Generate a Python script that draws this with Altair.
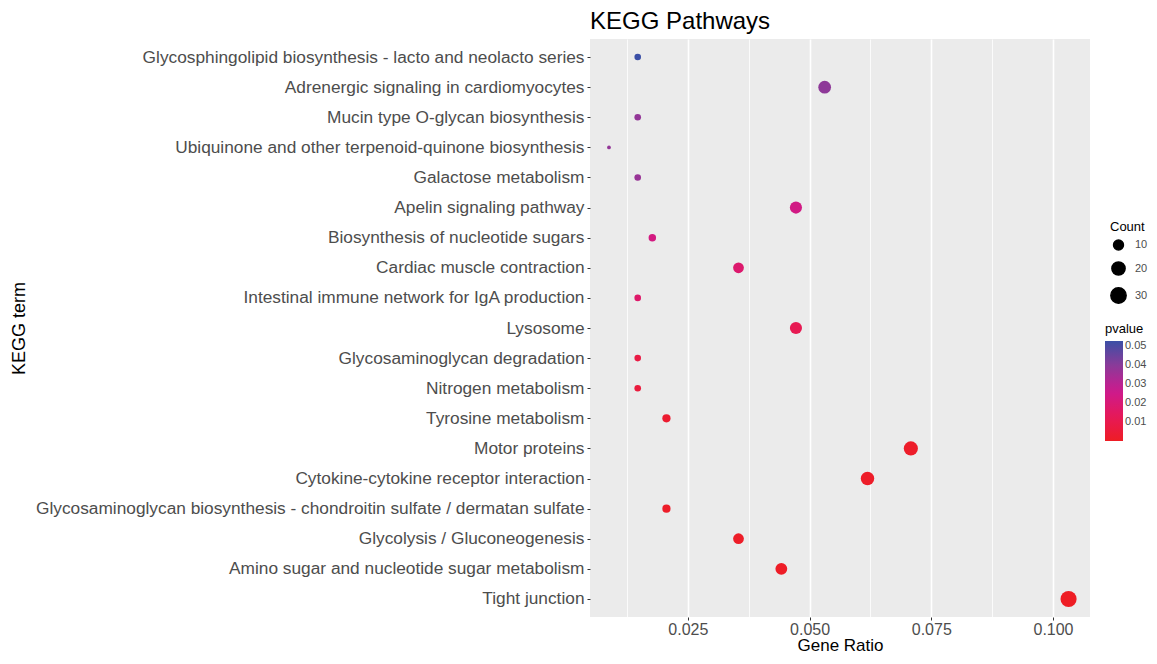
import altair as alt
import pandas as pd

terms = [
    "Glycosphingolipid biosynthesis - lacto and neolacto series",
    "Adrenergic signaling in cardiomyocytes",
    "Mucin type O-glycan biosynthesis",
    "Ubiquinone and other terpenoid-quinone biosynthesis",
    "Galactose metabolism",
    "Apelin signaling pathway",
    "Biosynthesis of nucleotide sugars",
    "Cardiac muscle contraction",
    "Intestinal immune network for IgA production",
    "Lysosome",
    "Glycosaminoglycan degradation",
    "Nitrogen metabolism",
    "Tyrosine metabolism",
    "Motor proteins",
    "Cytokine-cytokine receptor interaction",
    "Glycosaminoglycan biosynthesis - chondroitin sulfate / dermatan sulfate",
    "Glycolysis / Gluconeogenesis",
    "Amino sugar and nucleotide sugar metabolism",
    "Tight junction",
]
gene_ratio = [0.0147, 0.0531, 0.0147, 0.0088, 0.0147, 0.0472, 0.0177, 0.0354,
              0.0147, 0.0472, 0.0147, 0.0147, 0.0206, 0.0708, 0.0619, 0.0206,
              0.0354, 0.0442, 0.1032]
counts = [5, 18, 5, 3, 5, 16, 6, 12, 5, 16, 5, 5, 7, 24, 21, 7, 12, 15, 35]
pvalues = [0.0526, 0.039, 0.038, 0.038, 0.037, 0.0237, 0.023, 0.018, 0.017,
           0.0115, 0.008, 0.006, 0.003, 0.0015, 0.0012, 0.0012, 0.001, 0.0008,
           0.00002]

major_ticks = [0.025, 0.05, 0.075, 0.1]
minor_ticks = [0.0125, 0.0375, 0.0625, 0.0875]
size_legend_values = [10, 20, 30]
color_legend_values = [0.01, 0.02, 0.03, 0.04, 0.05]
color_stops = [0.0, 0.01315, 0.0263, 0.03945, 0.0526]
color_range = ["#EE1D24", "#E6195A", "#CC1A8E", "#8C3A98", "#3B4FA6"]

df = pd.DataFrame({"term": terms, "GeneRatio": gene_ratio,
                   "Count": counts, "pvalue": pvalues})

minor_test = "indexof([0.0125,0.0375,0.0625,0.0875], datum.value) >= 0"

chart = alt.Chart(df).mark_circle(opacity=1).encode(
    x=alt.X("GeneRatio:Q", title="Gene Ratio",
            scale=alt.Scale(domain=[0.0049, 0.1076], nice=False, zero=False),
            axis=alt.Axis(values=sorted(major_ticks + minor_ticks),
                          labelExpr=f"{minor_test} ? '' : format(datum.value, '.3f')",
                          gridWidth={"condition": {"test": minor_test, "value": 0.8}, "value": 1.6},
                          tickOpacity={"condition": {"test": minor_test, "value": 0}, "value": 1})),
    y=alt.Y("term:N", sort=terms, title="KEGG term",
            scale=alt.Scale(type="point", padding=0.6),
            axis=alt.Axis(titleX=-562, titleY=289)),
    size=alt.Size("Count:Q",
                  scale=alt.Scale(type="sqrt", domain=[3, 35], range=[14, 260], zero=False),
                  legend=alt.Legend(values=size_legend_values, orient="none",
                                    legendX=520, legendY=182,
                                    symbolFillColor="black", symbolStrokeColor="black",
                                    symbolType="circle", symbolOpacity=1,
                                    labelOffset=8, rowPadding=5)),
    color=alt.Color("pvalue:Q",
                    scale=alt.Scale(domain=color_stops, range=color_range, interpolate="rgb"),
                    legend=alt.Legend(values=color_legend_values, orient="none",
                                      legendX=515, legendY=284,
                                      gradientLength=100, gradientThickness=18,
                                      format=".2f")),
).properties(
    width=500, height=578,
    title=alt.Title("KEGG Pathways", anchor="start", frame="group", fontSize=24,
                    fontWeight="normal", color="black", font="Liberation Sans", offset=5),
    padding={"left": 2, "top": 2, "right": 0, "bottom": 0},
).configure(
    font="Liberation Sans",
    background="white",
).configure_view(
    fill="#EBEBEB", stroke=None,
).configure_axis(
    domain=False,
    gridColor="white",
    gridOpacity=1,
    tickColor="#333333",
    tickSize=3,
    labelFont="Liberation Sans",
    labelFontSize=17.3,
    labelColor="#4D4D4D",
    labelPadding=3,
    titleFont="Liberation Sans",
    titleFontSize=18,
    titleFontWeight="normal",
    titleColor="black",
).configure_axisY(
    gridWidth=1.6,
    labelLimit=1000,
).configure_axisX(
    labelFontSize=16,
    labelPadding=1,
    titlePadding=0,
    titleFontSize=17,
).configure_legend(
    titleFont="Liberation Sans",
    titleFontSize=13,
    titleFontWeight="normal",
    titleColor="black",
    labelFont="Liberation Sans",
    labelFontSize=11,
    labelColor="#4D4D4D",
)

chart.save("out.html", embed_options={"renderer": "svg", "actions": False})
